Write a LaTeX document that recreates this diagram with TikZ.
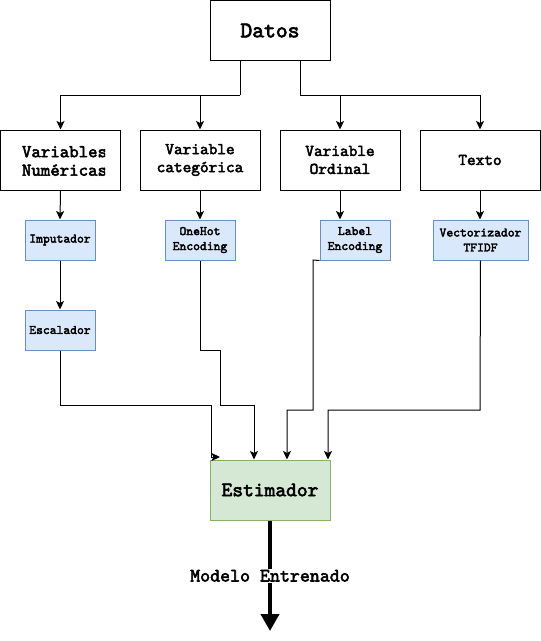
\documentclass[tikz,border=0pt]{standalone}
\usepackage{fontspec}
\newfontfamily\cour{lmmono10-regular.otf}[FakeBold=2.8]
\usetikzlibrary{arrows.meta}
\definecolor{bluefill}{HTML}{DAE8FC}
\definecolor{blueline}{HTML}{6C8EBF}
\definecolor{greenfill}{HTML}{D5E8D4}
\definecolor{greenline}{HTML}{82B366}
\newcommand{\fs}[2]{\fontsize{#1}{#2}\selectfont\cour}
\begin{document}
\begin{tikzpicture}[x=1pt,y=-1pt,
  bigbox/.style={draw=black, line width=1pt, minimum width=120pt, minimum height=60pt, inner sep=0pt, align=center, font=\fs{16.5}{18}},
  smallbox/.style={draw=blueline, fill=bluefill, line width=1pt, minimum width=70pt, minimum height=40pt, inner sep=0pt, align=center, font=\fs{13}{15}},
  arr/.style={line width=1pt, -{Stealth[length=8.5pt,width=8pt,inset=2pt]}},
  conn/.style={line width=1pt}
]
\useasboundingbox (0,0) rectangle (541,641);
% top
\node[bigbox, font=\fs{22.5}{26}] (datos) at (270,30.5) {Datos};
% row 2
\node[bigbox] (num) at (60.5,160) {};
\begin{scope}
\clip (0,130) rectangle (105,190);
\node[align=center, inner sep=0pt, font=\fs{18}{18.5}] (numtxt) at (64.5,161) {Variables\\Numéricas};
\end{scope}
\node[bigbox] (cat) at (200,160) {Variable\\categórica};
\node[bigbox] (ord) at (340,160) {Variable\\Ordinal};
\node[bigbox] (txt) at (480,160) {Texto};
% row 3
\node[smallbox] (imp) at (60,240) {Imputador};
\node[smallbox] (oh) at (200,240) {OneHot\\Encoding};
\node[smallbox] (lab) at (355,240) {Label\\Encoding};
\node[smallbox, minimum width=95pt] (vec) at (480.5,240) {Vectorizador\\TFIDF};
\node[smallbox] (esc) at (60,330) {Escalador};
% estimator
\node[draw=greenline, fill=greenfill, line width=1pt, minimum width=120pt, minimum height=60pt, inner sep=0pt, font=\fs{20.5}{24}] (est) at (270,490) {Estimador};
% top connectors
\coordinate (jl) at (240,95);
\coordinate (jr) at (300,95);
\draw[conn] ([xshift=-30pt]datos.south) -- (jl);
\draw[arr] (jl) -| (num.north);
\draw[arr] (jl) -| (cat.north);
\draw[conn] ([xshift=30pt]datos.south) -- (jr);
\draw[arr] (jr) -| (ord.north);
\draw[arr] (jr) -| (txt.north);
% row2 -> row3
\draw[arr] (num.south) -- (imp.north);
\draw[arr] (cat.south) -- (oh.north);
\draw[arr] (ord.south) -- (ord.south |- lab.north);
\draw[arr] (txt.south) -- (txt.south |- vec.north);
\draw[arr] (imp.south) -- (esc.north);
% to estimator
\coordinate (e1) at (211,457);
\draw[conn] (esc.south) -- (60,405) -- (211,405) -- (e1);
\draw[arr] (e1) -- ++(9,0);
\draw[arr] (oh.south) -- (200,350) -- (220,350) -- (220,405) -- (254,405) -- ([xshift=-16pt]est.north);
\draw[arr] (lab.south west) -- (313,260) -- (313,410) -- (287,410) -- ([xshift=17pt]est.north);
\draw[arr] (vec.south) -- (480,410) -- (328,410) -- ([xshift=58pt]est.north);
% output
\coordinate (out) at (270,631);
\draw[line width=4pt, -{Triangle[length=17pt,width=18pt]}] (est.south) -- (out)
  node[pos=0.5, fill=white, inner sep=1pt, font=\fs{19}{20}] (lbl) {Modelo Entrenado};
\end{tikzpicture}
\end{document}
